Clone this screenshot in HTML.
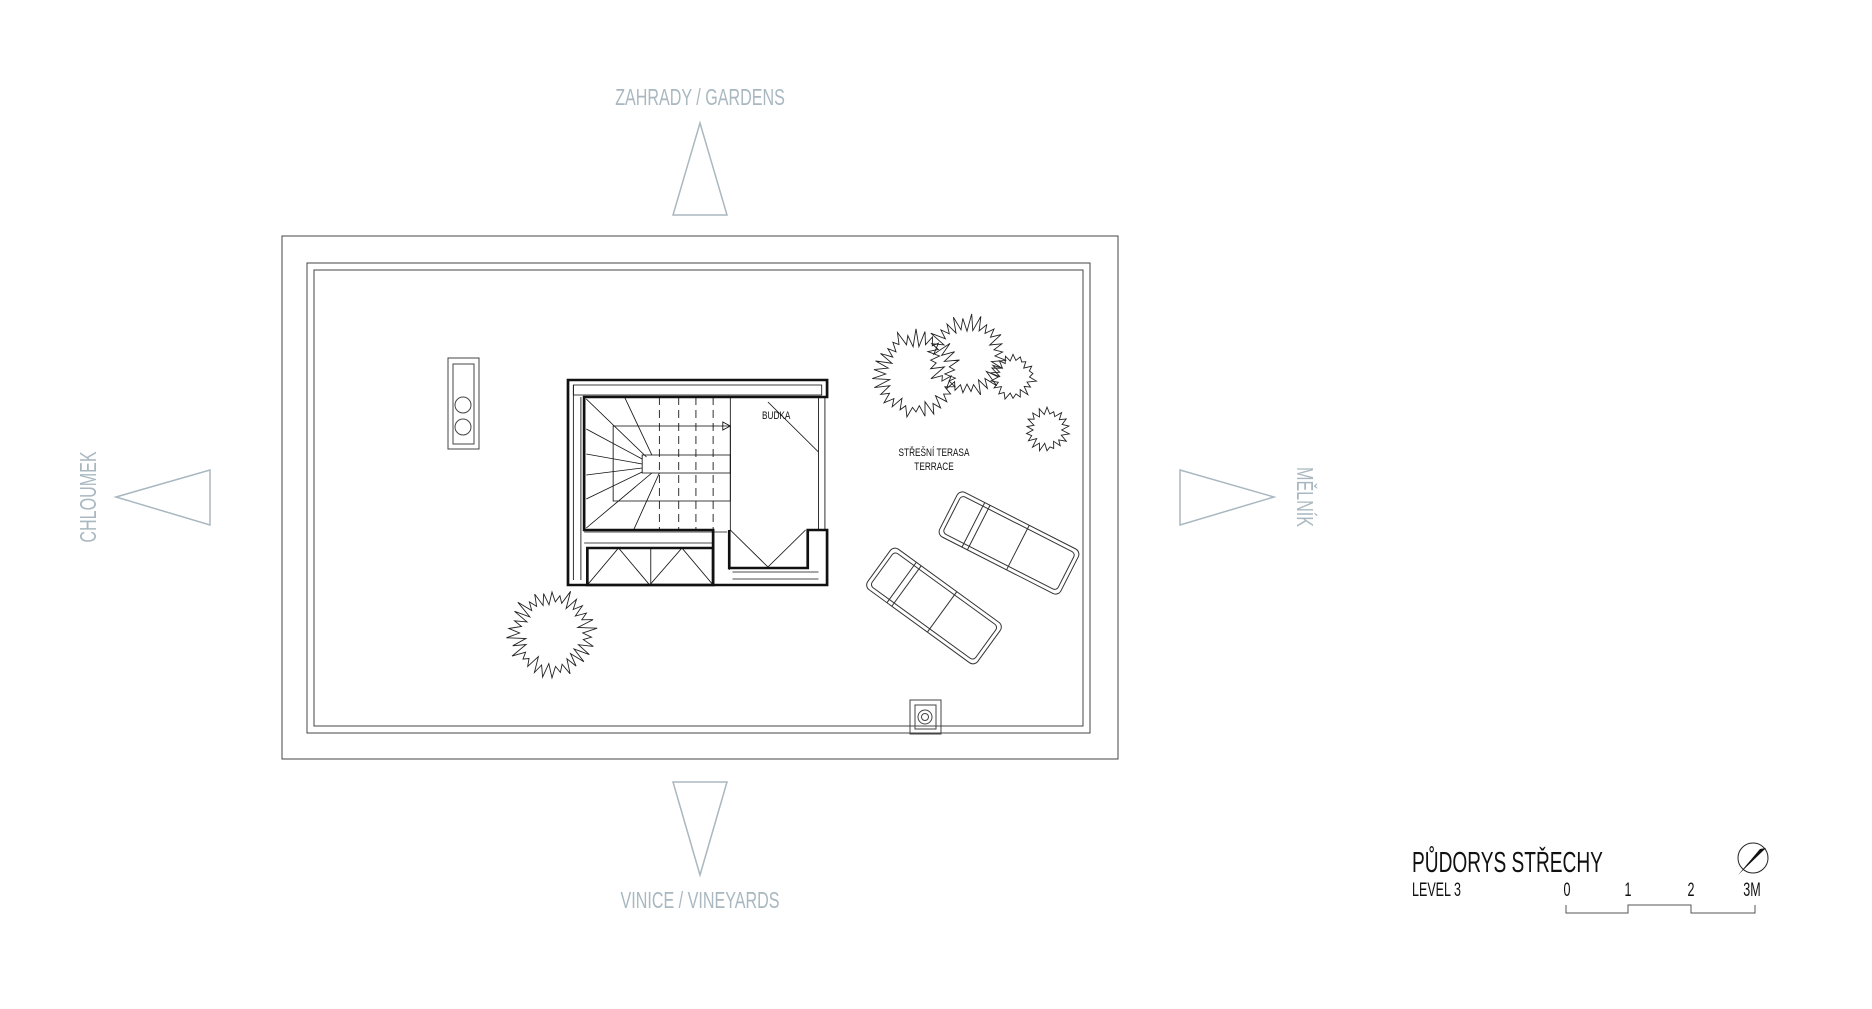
<!DOCTYPE html>
<html><head><meta charset="utf-8"><style>
html,body{margin:0;padding:0;background:#fff;width:1872px;height:1009px;overflow:hidden}
svg{display:block}
.lab{font-family:"Liberation Sans",sans-serif;fill:#a9b8c0;font-size:23px}
.blk{font-family:"Liberation Sans",sans-serif;fill:#111}
</style></head><body>
<svg id="s" width="1872" height="1009" viewBox="0 0 1872 1009" xmlns="http://www.w3.org/2000/svg">
<g fill="none" stroke="#a9b8c0" stroke-width="1.5">
<polygon points="700,123 673,215 727,215"/>
<polygon points="673,782 727,782 700,875"/>
<polygon points="116,497 210,470 210,525"/>
<polygon points="1180,470 1180,525 1274,497"/>
</g>
<text class="lab" text-anchor="middle" transform="translate(700 105) scale(0.70 1)">ZAHRADY / GARDENS</text>
<text class="lab" text-anchor="middle" transform="translate(700 908) scale(0.70 1)">VINICE / VINEYARDS</text>
<text class="lab" transform="translate(96 497) rotate(-90) scale(0.70 1)" text-anchor="middle">CHLOUMEK</text>
<text class="lab" transform="translate(1297 497) rotate(90) scale(0.70 1)" text-anchor="middle">MĚLNÍK</text>

<g fill="none" stroke="#444" stroke-width="1">
<rect x="282" y="236" width="836" height="523"/>
<rect x="307" y="263" width="783" height="470"/>
<rect x="314" y="270" width="769" height="456"/>
<rect x="448" y="358" width="31" height="91"/>
<rect x="453" y="364" width="21" height="80"/>
<circle cx="463" cy="405" r="8"/><circle cx="463" cy="427" r="8"/>
<rect x="910" y="700" width="31" height="34"/>
<rect x="915" y="705" width="21" height="24"/>
<circle cx="925" cy="717" r="7"/><circle cx="925" cy="717" r="3.5"/>
</g>

<!-- stair block -->
<g transform="translate(568 380) scale(1.075 1) translate(-567 -378)">
<g fill="none" stroke="#111">
<path d="M567,378 H808 V395 H582 V528 H702 V583 H567 Z" stroke-width="2.5"/>
<path d="M717,528 V566 H790 V528 H808 V583 H702" stroke-width="2.5"/>
<path d="M585,546 H702 V583 H585 Z" stroke-width="2.5"/>
<g stroke-width="0.8">
<rect x="572" y="383" width="231" height="10"/>
<line x1="572" y1="383" x2="572" y2="578"/><line x1="579" y1="395" x2="579" y2="578"/>
<line x1="582" y1="530" x2="715" y2="530"/><line x1="582" y1="541" x2="702" y2="541"/>
<line x1="717" y1="529" x2="717" y2="568"/>
<line x1="720" y1="570" x2="800" y2="570"/><line x1="720" y1="577" x2="800" y2="577"/>
<line x1="718" y1="395" x2="718" y2="528"/>
<line x1="800" y1="395" x2="800" y2="528"/><line x1="806" y1="395" x2="806" y2="528"/>
<line x1="753" y1="400" x2="800" y2="450"/>
<line x1="718" y1="528" x2="753" y2="565"/><line x1="788" y1="528" x2="753" y2="565"/>
<line x1="585" y1="583" x2="614" y2="546"/><line x1="643" y1="583" x2="614" y2="546"/>
<line x1="643" y1="583" x2="673" y2="546"/><line x1="702" y1="583" x2="673" y2="546"/>
<line x1="644" y1="546" x2="644" y2="583"/>
<rect x="636" y="453" width="82" height="18"/>
<rect x="609" y="424" width="109" height="75"/>
<line x1="652" y1="395" x2="652" y2="528" stroke-dasharray="8 5"/>
<line x1="670" y1="395" x2="670" y2="528" stroke-dasharray="8 5"/>
<line x1="686" y1="395" x2="686" y2="528" stroke-dasharray="8 5"/>
<line x1="702" y1="395" x2="702" y2="528" stroke-dasharray="8 5"/>
<line x1="584" y1="397" x2="640" y2="455"/>
<line x1="620" y1="396" x2="645" y2="453"/>
<line x1="584" y1="427" x2="636" y2="457"/>
<line x1="584" y1="452" x2="636" y2="462"/>
<line x1="584" y1="473" x2="636" y2="466"/>
<line x1="584" y1="497" x2="636" y2="470"/>
<line x1="584" y1="526" x2="645" y2="471"/>
<line x1="628" y1="528" x2="652" y2="471"/>
<polygon points="711,420 718,424 711,428"/>
</g></g></g>
<text class="blk" font-size="11" transform="translate(762 419) scale(0.75 1)">BUDKA</text>
<text class="blk" font-size="11" text-anchor="middle" transform="translate(934 456) scale(0.75 1)">STŘEŠNÍ TERASA</text>
<text class="blk" font-size="11" text-anchor="middle" transform="translate(934 470) scale(0.75 1)">TERRACE</text>

<g id="trees" fill="none" stroke="#222" stroke-width="0.9"></g>

<g fill="none" stroke="#333" stroke-width="1">
<g transform="translate(1009 543) rotate(27)">
<rect x="-68" y="-25" width="136" height="50" rx="6"/>
<rect x="-64" y="-21" width="128" height="42" rx="4"/>
<line x1="-40" y1="-25" x2="-40" y2="25"/><line x1="-34" y1="-25" x2="-34" y2="25"/>
<line x1="10" y1="-25" x2="10" y2="25"/>
</g>
<g transform="translate(934 606) rotate(36)">
<rect x="-68" y="-25" width="136" height="50" rx="6"/>
<rect x="-64" y="-21" width="128" height="42" rx="4"/>
<line x1="-40" y1="-25" x2="-40" y2="25"/><line x1="-34" y1="-25" x2="-34" y2="25"/>
<line x1="10" y1="-25" x2="10" y2="25"/>
</g>
</g>

<text class="blk" font-size="29" transform="translate(1412 872) scale(0.66 1)">PŮDORYS STŘECHY</text>
<text class="blk" font-size="19" transform="translate(1412 896) scale(0.66 1)">LEVEL 3</text>
<g class="blk" font-size="19" text-anchor="middle">
<text transform="translate(1567 896) scale(0.66 1)">0</text>
<text transform="translate(1628 896) scale(0.66 1)">1</text>
<text transform="translate(1691 896) scale(0.66 1)">2</text>
<text transform="translate(1752 896) scale(0.66 1)">3M</text>
</g>
<path d="M1566,905 V913 H1628 V905 H1691 V913 H1755 V905" fill="none" stroke="#555" stroke-width="1"/>
<circle cx="1753" cy="858" r="15" fill="none" stroke="#222" stroke-width="1"/>
<polygon points="1766,848 1738,875 1760,849" fill="#111"/>
</svg>
<script>
var g=document.getElementById('trees');
function tree(cx,cy,r,n,seed){var d='';var s=seed;function rnd(){s=(s*9301+49297)%233280;return s/233280;}
for(var i=0;i<n;i++){var a=i/n*2*Math.PI,a2=(i+0.5)/n*2*Math.PI;var r1=r*(0.62+0.2*rnd()),r2=r*(0.9+0.2*rnd());
d+=(i?'L':'M')+(cx+r1*Math.cos(a)).toFixed(1)+','+(cy+r1*Math.sin(a)).toFixed(1)+'L'+(cx+r2*Math.cos(a2)).toFixed(1)+','+(cy+r2*Math.sin(a2)).toFixed(1);}
var p=document.createElementNS('http://www.w3.org/2000/svg','path');p.setAttribute('d',d+'Z');g.appendChild(p);}
tree(916,374,42,30,3);tree(967,356,39,28,7);tree(1013,377,22,18,11);tree(1047,430,21,18,5);tree(552,633,42,30,9);
</script>
</body></html>
